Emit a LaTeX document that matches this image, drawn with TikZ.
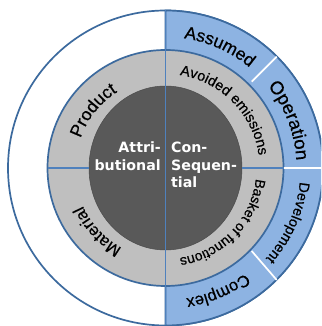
\documentclass[tikz,border=0pt]{standalone}
\usepackage{fontspec}
\setmainfont{Liberation Sans}
\newfontfamily\arcfont{Liberation Sans}[FakeBold=0.5]
\newfontfamily\labelfont{DejaVu Sans Bold}
\usetikzlibrary{decorations.text}
\definecolor{ringblue}{HTML}{8DB3E2}
\definecolor{edgeblue}{HTML}{3C6A9E}
\definecolor{axisblue}{HTML}{4F81BD}
\definecolor{ringgrey}{HTML}{BFBFBF}
\definecolor{coredark}{HTML}{595959}
\tikzset{
  ringedge/.style={draw=edgeblue,line width=1.7pt},
  axisline/.style={draw=axisblue,line width=1.7pt},
  divider/.style={draw=white,line width=1.7pt},
  corelabel/.style={text=white,font=\labelfont\fontsize{14.2}{17.5}\selectfont,inner sep=0pt},
}
% #1 font size, #2 radius, #3 start angle, #4 end angle, #5 text
\newcommand{\arctext}[5]{%
  \path[decorate,decoration={text along path,text align=center,
    text={|\arcfont\fontsize{#1}{#1}\selectfont|#5}}]
    (165.5+#2*cos #3,158+#2*sin #3) arc[start angle=#3,end angle=#4,radius=#2];}
\begin{document}
\begin{tikzpicture}[x=1pt,y=1pt]
\useasboundingbox (0,0) rectangle (321,326);
\clip (0,0) rectangle (321,326);
\coordinate (c) at (165.5,158);
% outer ring
\fill[white] (0,0) rectangle (321,326);
\path[ringedge,fill=white] (c) circle[radius=157.5];
\path[fill=ringblue,ringedge] (165.5,315.5) arc[start angle=90,end angle=-90,radius=157.5] -- cycle;
% middle ring
\path[ringedge,fill=ringgrey] (c) circle[radius=118];
% core
\path[draw=black!70,line width=0.5pt,fill=coredark] (c) ellipse[x radius=76.5,y radius=82];
% axes
\path[axisline] (165.5,315.5) -- (165.5,0.5);
\path[axisline] (47.5,158) -- (89,158);
\path[axisline] (242,158) -- (283.5,158);
% dividers
\path[divider] (284,158) -- (321,158);
\path[divider] (251.7,244.3) -- (276.7,269.3);
\path[divider] (251.7,75) -- (276.7,46);
% labels
\arctext{17.5}{131}{84}{48}{Assumed}
\arctext{18.5}{131}{41}{1}{Operation}
\arctext{14.5}{135}{-4}{-44}{Development}
\arctext{16.5}{132}{-50}{-84}{Complex}
\arctext{14.5}{94}{84}{5}{Avoided emissions}
\arctext{14}{91}{-4}{-84}{Basket of functions}
\arctext{17.5}{90}{164}{119}{Product}
\arctext{16.5}{91}{247}{199}{Material}
\node[corelabel,align=right,anchor=north east] (attr) at (161,184) {Attri-\\butional};
\node[corelabel,align=left,anchor=north west] (cons) at (171,184) {Con-\\Sequen-\\tial};
\end{tikzpicture}
\end{document}
